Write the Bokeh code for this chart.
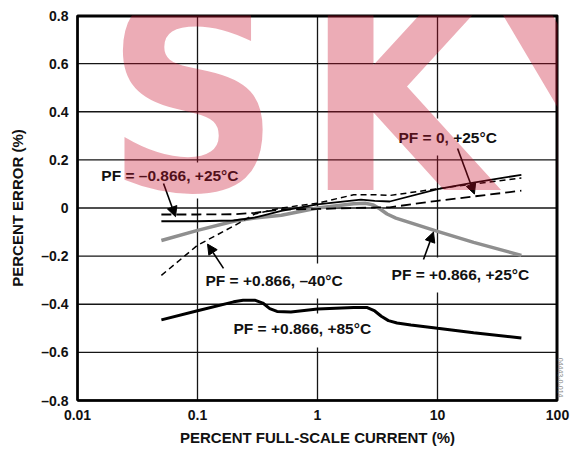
from bokeh.plotting import figure
from bokeh.models import Range1d, FixedTicker, Label, Arrow, NormalHead, Title
from bokeh.embed import file_html
from bokeh.resources import INLINE

# ---------------- data ----------------
x_ticks = [0.01, 0.1, 1, 10, 100]
x_tick_labels = ["0.01", "0.1", "1", "10", "100"]
y_ticks = [-0.8, -0.6, -0.4, -0.2, 0, 0.2, 0.4, 0.6, 0.8]
y_tick_labels = ["–0.8", "–0.6", "–0.4", "–0.2", "0", "0.2", "0.4", "0.6", "0.8"]

# PF = -0.866, +25C (long dashed)
x_neg = [0.05, 0.1, 0.2, 0.3, 0.5, 1, 2, 4, 10, 20, 50]
y_neg = [-0.027, -0.027, -0.026, -0.02, -0.006, -0.004, 0.0, 0.003, 0.03, 0.048, 0.072]

# PF = 0, +25C (thin solid)
x_pf0 = [0.05, 0.1, 0.2, 0.3, 0.5, 1, 2.3, 3, 4, 10, 20, 50]
y_pf0 = [-0.055, -0.055, -0.052, -0.04, -0.012, 0.015, 0.035, 0.03, 0.027, 0.078, 0.105, 0.138]

# PF = +0.866, -40C (short dashed)
x_m40 = [0.05, 0.1, 0.2, 0.3, 0.5, 1, 2, 3, 4, 10, 20, 50]
y_m40 = [-0.28, -0.155, -0.075, -0.025, 0.0, 0.02, 0.055, 0.055, 0.052, 0.08, 0.1, 0.125]

# PF = +0.866, +25C (gray thick)
x_p25 = [0.05, 0.1, 0.2, 0.3, 0.5, 1, 2, 2.5, 2.9, 3.3, 3.8, 4.5, 10, 20, 50]
y_p25 = [-0.135, -0.093, -0.055, -0.042, -0.03, 0.0, 0.018, 0.02, 0.013, -0.003, -0.025, -0.042, -0.097, -0.143, -0.197]

# PF = +0.866, +85C (black thick)
x_p85 = [0.05, 0.1, 0.2, 0.24, 0.3, 0.35, 0.4, 0.46, 0.6, 1, 2, 2.6, 3.0, 3.4, 3.9, 4.6, 6, 10, 20, 50]
y_p85 = [-0.465, -0.427, -0.39, -0.383, -0.383, -0.395, -0.418, -0.43, -0.432, -0.42, -0.413, -0.414, -0.428,
         -0.45, -0.468, -0.478, -0.486, -0.5, -0.518, -0.54]

labels = ["PF = –0.866, +25°C", "PF = 0, +25°C", "PF = +0.866, –40°C",
          "PF = +0.866, +25°C", "PF = +0.866, +85°C"]

watermark_letters = ["S", "K", "Y"]

FONT = "Liberation Sans"

p = figure(width=570, height=449, x_axis_type="log",
           x_range=Range1d(0.01, 100), y_range=Range1d(-0.8, 0.8),
           output_backend="svg", toolbar_location=None,
           min_border_left=77, min_border_right=13,
           min_border_top=15, min_border_bottom=49)
p.background_fill_color = "white"
p.border_fill_color = "white"
p.outline_line_color = "black"
p.outline_line_width = 2

p.xaxis.ticker = FixedTicker(ticks=x_ticks)
p.yaxis.ticker = FixedTicker(ticks=y_ticks)
p.xaxis.major_label_overrides = dict(zip(x_ticks, x_tick_labels))
p.yaxis.major_label_overrides = dict(zip(y_ticks, y_tick_labels))
for ax in (p.xaxis[0], p.yaxis[0]):
    ax.major_tick_in = 0
    ax.major_tick_out = 0
    ax.minor_tick_in = 0
    ax.minor_tick_out = 0
    ax.axis_line_width = 2.5
    ax.axis_line_color = "black"
    ax.major_label_text_font = FONT
    ax.major_label_text_font_style = "bold"
    ax.major_label_text_font_size = "14px"
    ax.major_label_text_color = "#111111"
    ax.axis_label_text_font = FONT
    ax.axis_label_text_font_style = "bold"
    ax.axis_label_text_font_size = "15px"
    ax.axis_label_text_color = "#111111"
p.xaxis.major_label_standoff = 9
p.yaxis.major_label_standoff = 9
p.xaxis.axis_label = "PERCENT FULL-SCALE CURRENT (%)"
p.yaxis.axis_label = "PERCENT ERROR (%)"
p.xaxis.axis_label_standoff = 6
p.yaxis.axis_label_standoff = 12

p.grid.visible = False

# grid lines drawn as glyphs
n_x = len(x_ticks)
n_y = len(y_ticks)
p.segment(x0=x_ticks, y0=[y_ticks[0]] * n_x, x1=x_ticks, y1=[y_ticks[-1]] * n_x,
          line_color="#151515", line_width=1.3)
p.segment(x0=[x_ticks[0]] * n_y, y0=y_ticks, x1=[x_ticks[-1]] * n_y, y1=y_ticks,
          line_color="#151515", line_width=1.3)
# top and right frame edges
p.segment(x0=[x_ticks[0], x_ticks[-1]], y0=[y_ticks[-1], y_ticks[0]],
          x1=[x_ticks[-1], x_ticks[-1]], y1=[y_ticks[-1], y_ticks[-1]],
          line_color="black", line_width=4)

# gridline breaks behind labels
brk_x = [0.1, 10, 10, 1, 1]
brk_y0 = [0.189, 0.372, -0.206, -0.231, -0.438]
brk_y1 = [0.039, 0.218, -0.351, -0.376, -0.580]
p.segment(x0=brk_x, y0=brk_y0, x1=brk_x, y1=brk_y1, line_color="white", line_width=4)

# curves
p.line(x_p25, y_p25, line_color="#8f8f8f", line_width=3.5)
p.line(x_p85, y_p85, line_color="black", line_width=3)
p.line(x_neg, y_neg, line_color="black", line_width=1.8, line_dash="10 5")
p.line(x_pf0, y_pf0, line_color="black", line_width=1.8)
p.line(x_m40, y_m40, line_color="black", line_width=1.5, line_dash="6 4")

# annotations
lab_x = [0.0158, 4.73, 0.1166, 4.14, 0.1995]
lab_y = [0.135, 0.293, -0.301, -0.276, -0.501]
for t, lx, ly in zip(labels, lab_x, lab_y):
    p.add_layout(Label(x=lx, y=ly, text=t, text_font=FONT, text_font_style="bold",
                       text_font_size="15.5px", text_color="#111111",
                       text_align="left", text_baseline="middle"))

arr = [(0.0521, 0.102, 0.0656, -0.036),
       (14.7, 0.247, 20.3, 0.058),
       (0.1647, -0.251, 0.1212, -0.150),
       (7.64, -0.214, 9.26, -0.100)]
for xs, ys, xe, ye in arr:
    p.add_layout(Arrow(end=NormalHead(size=10, fill_color="black", line_color="black", line_width=1),
                       x_start=xs, y_start=ys, x_end=xe, y_end=ye,
                       line_color="black", line_width=1.6))

# figure id on the right margin
p.add_layout(Title(text="04443-0-014", text_font=FONT, text_font_size="7px",
                   text_font_style="normal", text_color="#888888",
                   align="right", standoff=0, offset=3), "right")

# watermark (one label per letter)
wm_x = [0.01711, 0.794, 28.7]
for letter, wx in zip(watermark_letters, wm_x):
    p.add_layout(Label(x=wx, y=0.463, text=letter, text_font="DejaVu Sans Condensed",
                       text_font_style="bold", text_font_size="270px",
                       text_color="#c8102e", text_alpha=0.35,
                       text_align="left", text_baseline="alphabetic"))

open("out.html", "w").write(file_html(p, INLINE))
